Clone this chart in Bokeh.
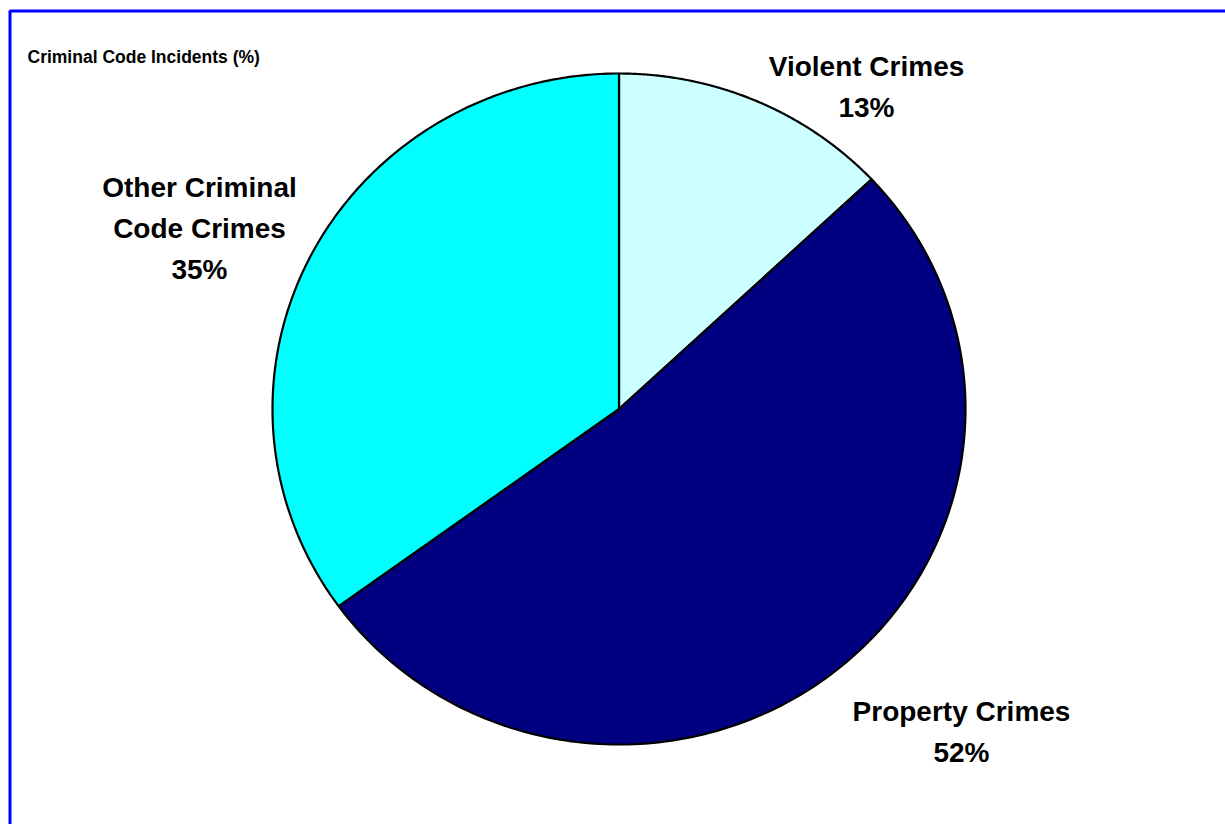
import numpy as np
from bokeh.plotting import figure
from bokeh.models import Range1d
from bokeh.core.properties import value
from bokeh.embed import file_html
from bokeh.resources import INLINE

# ---- data ----
categories = ["Violent Crimes", "Property Crimes", "Other Criminal Code Crimes"]
percents = [13, 52, 35]
colors = ["#CCFFFF", "#000080", "#00FFFF"]
label_lines = [["Violent Crimes"], ["Property Crimes"], ["Other Criminal", "Code Crimes"]]
title_text = "Criminal Code Incidents (%)"

W, H = 1225, 824
FONT = "Liberation Sans"

p = figure(width=W, height=H, output_backend="svg", toolbar_location=None,
           x_range=Range1d(0, W), y_range=Range1d(H, 0), min_border=0)
p.axis.visible = False
p.grid.visible = False
p.outline_line_color = None
p.background_fill_color = "white"
p.border_fill_color = "white"

# pie geometry (screen-like units)
cx, cy, rx, ry = 618.5, 408.5, 346.5, 335.5
fr = np.array(percents, dtype=float) / sum(percents)
ends = np.cumsum(fr)
starts = ends - fr
xs, ys = [], []
for s, e in zip(starts, ends):
    t = np.linspace(s, e, 200) * 2 * np.pi  # clockwise from top
    x = cx + rx * np.sin(t)
    y = cy - ry * np.cos(t)
    xs.append([cx] + list(x) + [cx])
    ys.append([cy] + list(y) + [cy])
p.patches(xs, ys, fill_color=colors, line_color="black", line_width=2.2)

# labels (anchor = centre x, first baseline y)
anchors = [(866, 66), (961, 711), (199, 187)]
step = 41
tx, ty, tt = [], [], []
for (ax, ay), lines, pct in zip(anchors, label_lines, percents):
    allines = lines + [f"{pct}%"]
    for i, ln in enumerate(allines):
        tx.append(ax); ty.append(ay + i * step); tt.append(ln)
p.text(x=tx, y=ty, text=tt, text_align="center", text_baseline="alphabetic",
       text_font=value(FONT), text_font_style="bold", text_font_size="28px",
       text_color="black")

p.text(x=[27], y=[56], text=[title_text], text_align="left", text_baseline="alphabetic",
       text_font=value(FONT), text_font_style="bold", text_font_size="17.5px",
       text_color="black")

# blue frame (top and left edges; others run off the page)
p.line(x=[9.5, 9.5, W + 20], y=[H + 20, 10.5, 10.5], line_color="#0000FF", line_width=3)

open("out.html", "w").write(file_html(p, INLINE))
